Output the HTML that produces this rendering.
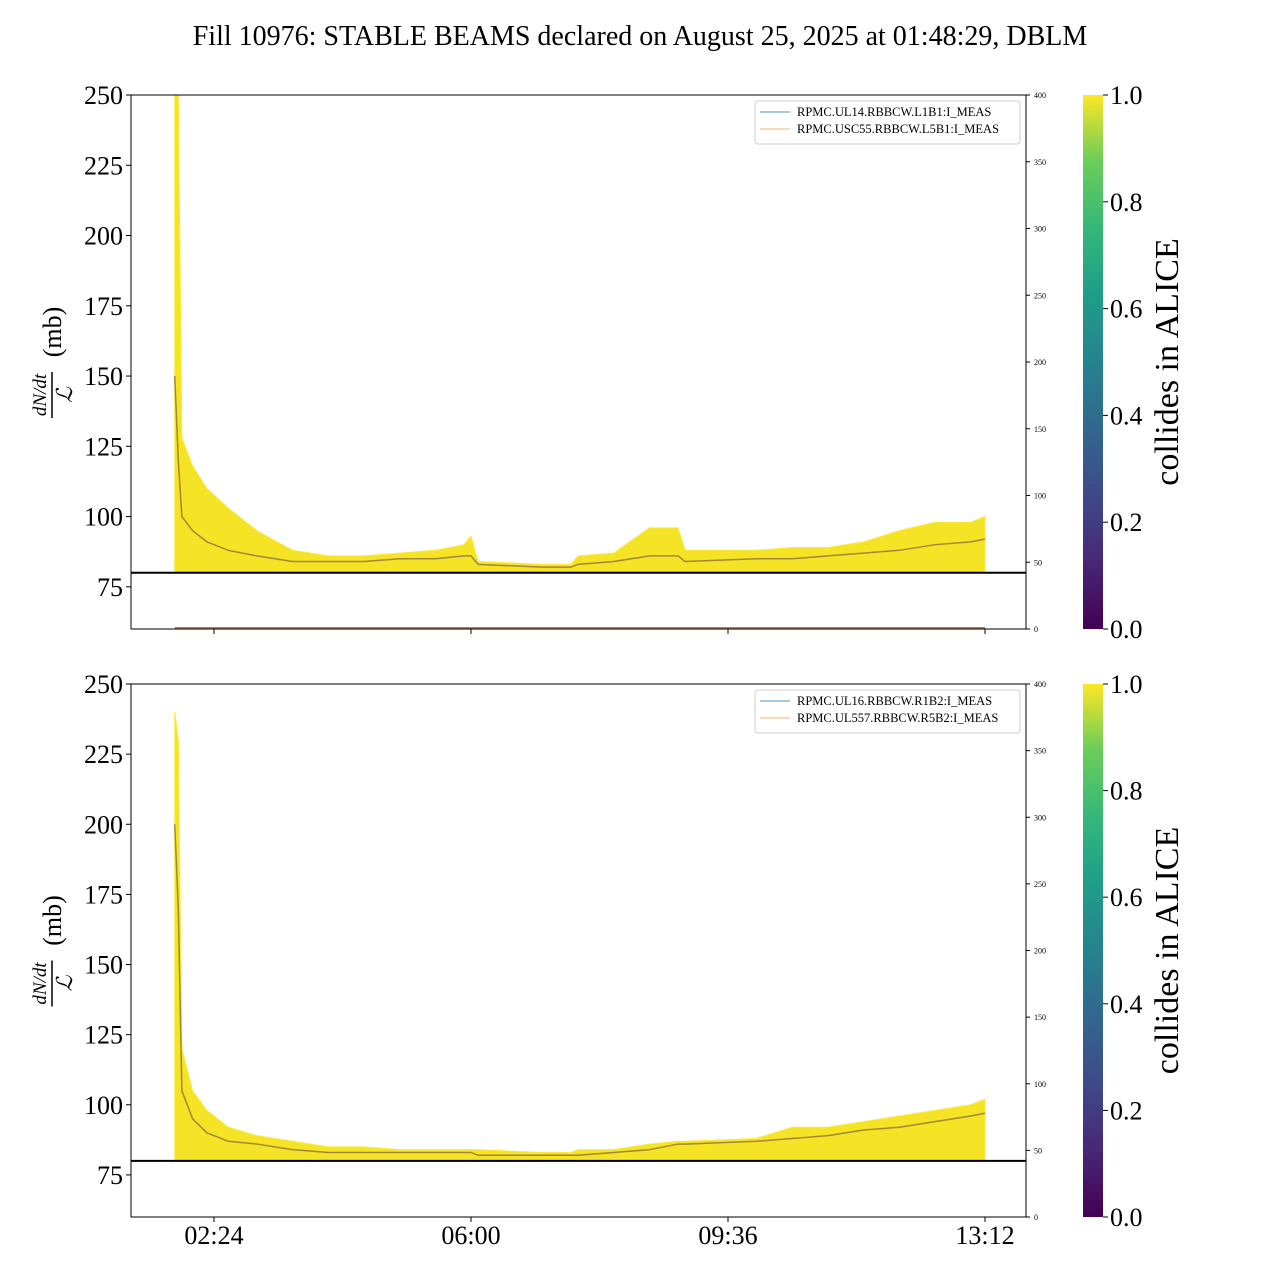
<!DOCTYPE html>
<html><head><meta charset="utf-8"><style>
body{margin:0;background:#fff}
svg{font-family:"Liberation Serif",serif}
</style></head><body>
<svg id="c" width="1280" height="1280" xmlns="http://www.w3.org/2000/svg">
<defs><linearGradient id="vir" x1="0" y1="1" x2="0" y2="0">
<stop offset="0" stop-color="#440154"/><stop offset="0.13" stop-color="#482878"/><stop offset="0.25" stop-color="#3e4a89"/><stop offset="0.38" stop-color="#31688e"/><stop offset="0.5" stop-color="#26828e"/><stop offset="0.63" stop-color="#1f9e89"/><stop offset="0.75" stop-color="#35b779"/><stop offset="0.88" stop-color="#6ece58"/><stop offset="1" stop-color="#fde725"/></linearGradient></defs>
<text x="640" y="45" font-size="28" text-anchor="middle">Fill 10976: STABLE BEAMS declared on August 25, 2025 at 01:48:29, DBLM</text>
</svg>
<script>
const times=[1.85,1.9,1.95,2.1,2.3,2.6,3.0,3.5,4.0,4.5,5.0,5.5,5.9,6.0,6.1,7.0,7.4,7.5,8.0,8.5,8.9,9.0,10.0,10.5,11.0,11.5,12.0,12.5,13.0,13.2];
const topUpper=[250,250,128,118,110,103,95,88,86,86,87,88,90,93,84,83,83,86,87,96,96,88,88,89,89,91,95,98,98,100];
const topMid=[150,120,100,95,91,88,86,84,84,84,85,85,86,86,83,82,82,83,84,86,86,84,85,85,86,87,88,90,91,92];
const botUpper=[240,230,120,105,98,92,89,87,85,85,84,84,84,84,84,83,83,84,84,86,87,87,88,92,92,94,96,98,100,102];
const botMid=[200,170,105,95,90,87,86,84,83,83,83,83,83,83,82,82,82,82,83,84,86,86,87,88,89,91,92,94,96,97];
const yTicks=[75,100,125,150,175,200,225,250];
const rTicks=[0,50,100,150,200,250,300,350,400];
const xTickHours=[2.4,6.0,9.6,13.2];
const xTickLabels=["02:24","06:00","09:36","13:12"];
const cbTicks=[0,0.2,0.4,0.6,0.8,1.0];
const legends=[["RPMC.UL14.RBBCW.L1B1:I_MEAS","RPMC.USC55.RBBCW.L5B1:I_MEAS"],["RPMC.UL16.RBBCW.R1B2:I_MEAS","RPMC.UL557.RBBCW.R5B2:I_MEAS"]];
const svg=document.getElementById('c');const NS="http://www.w3.org/2000/svg";
function el(t,a,p){const e=document.createElementNS(NS,t);for(const k in a)e.setAttribute(k,a[k]);(p||svg).appendChild(e);return e;}
const X0=131,X1=1026;
const xs=h=>214+(h-2.4)*(257/3.6);
const panels=[{top:95,bot:629,up:topUpper,mid:topMid},{top:684,bot:1217,up:botUpper,mid:botMid}];
panels.forEach((P,i)=>{
 const ys=v=>P.bot-(v-60)*(P.bot-P.top)/190;
 const g=el('g',{});
 
 
 let d="M"+xs(times[0])+","+ys(80);
 times.forEach((t,j)=>d+=" L"+xs(t)+","+ys(P.up[j]));
 d+=" L"+xs(times[times.length-1])+","+ys(80)+"Z";
 const band=el('path',{d:d,fill:'#f5e10f',stroke:'#fde725','stroke-width':1,opacity:0.9},g);
 
 
 let m="";times.forEach((t,j)=>m+=(j?" L":"M")+xs(t)+","+ys(P.mid[j]));
 const ml=el('path',{d:m,fill:'none',stroke:'#6b4a3f','stroke-width':1.5,opacity:0.6},g);
 
 
 const hl=el('line',{x1:X0,x2:X1,y1:ys(80),y2:ys(80),stroke:'#000','stroke-width':2},g);
 
 
 if(i==0){const o=el('line',{x1:xs(times[0]),x2:xs(13.2),y1:P.bot-1,y2:P.bot-1,stroke:'#c0804a','stroke-width':2},g);
  
  }
 const fr=el('rect',{x:X0,y:P.top,width:X1-X0,height:P.bot-P.top,fill:'none',stroke:'#000','stroke-width':1},g);
 
 
 yTicks.forEach(v=>{el('line',{x1:X0-5,x2:X0,y1:ys(v),y2:ys(v),stroke:'#000'},g);
  const t=el('text',{x:X0-8,y:ys(v)+9,'font-size':26,'text-anchor':'end'},g);t.textContent=v;
  
  });
 rTicks.forEach(v=>{const y=P.bot-v*(P.bot-P.top)/400;el('line',{x1:X1,x2:X1+4,y1:y,y2:y,stroke:'#000'},g);
  const t=el('text',{x:X1+8,y:y+3,'font-size':8},g);t.textContent=v;
  
  });
 xTickHours.forEach((h,k)=>{el('line',{x1:xs(h),x2:xs(h),y1:P.bot,y2:P.bot+5,stroke:'#000'},g);
  if(i==1){const t=el('text',{x:xs(h),y:P.bot+27,'font-size':26,'text-anchor':'middle'},g);t.textContent=xTickLabels[k];
  
  }});
 const yl=el('g',{transform:`translate(52,${(P.top+P.bot)/2}) rotate(-90)`},g);
 
 
 const a=el('text',{x:-33,y:-6,'font-size':19,'text-anchor':'middle','font-style':'italic'},yl);a.textContent="dN/dt";
 el('line',{x1:-56,x2:-10,y1:0,y2:0,stroke:'#000','stroke-width':1.5},yl);
 const b=el('text',{x:-33,y:20,'font-size':22,'text-anchor':'middle','font-style':'italic'},yl);b.textContent="ℒ";
 const c=el('text',{x:30,y:9,'font-size':26,'text-anchor':'middle'},yl);c.textContent="(mb)";
 const lg=el('g',{},g);
 
 
 el('rect',{x:755,y:P.top+6,width:265,height:43,rx:3,fill:'#fff',stroke:'#ccc'},lg);
 const cols=['#4d8fc4','#f5b071'];
 legends[i].forEach((s,k)=>{const y=P.top+21+k*17;
  el('line',{x1:760,x2:790,y1:y-4,y2:y-4,stroke:cols[k],'stroke-width':1},lg);
  const t=el('text',{x:797,y:y,'font-size':12.5},lg);t.textContent=s;
  
  });
 const cb=el('g',{},g);
 
 
 el('rect',{x:1083,y:P.top,width:20,height:P.bot-P.top,fill:'url(#vir)'},cb);
 cbTicks.forEach(v=>{const y=P.bot-v*(P.bot-P.top);el('line',{x1:1103,x2:1108,y1:y,y2:y,stroke:'#000'},cb);
  const t=el('text',{x:1110,y:y+9,'font-size':26},cb);t.textContent=v.toFixed(1);
  
  });
 const ct=el('text',{x:0,y:0,'font-size':34,'text-anchor':'middle',transform:`translate(1178,${(P.top+P.bot)/2}) rotate(-90)`},cb);ct.textContent="collides in ALICE";
 
 
});
</script>
</body></html>
